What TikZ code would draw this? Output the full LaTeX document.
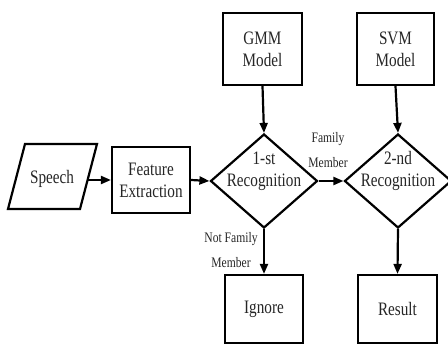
\documentclass[tikz,border=0pt]{standalone}
\usepackage{fontspec}
\setmainfont{Liberation Serif}[FakeStretch=0.8]
\usetikzlibrary{shapes.geometric,arrows.meta}
\begin{document}
\begin{tikzpicture}[x=1pt,y=-1pt,
  box/.style={draw,line width=2.2pt,inner sep=0pt,align=center,text=black!85,font=\fontsize{19}{22}\selectfont},
  dia/.style={draw,diamond,line width=2.2pt,inner sep=0pt,minimum width=107pt,minimum height=94pt},
  lbl/.style={align=center,inner sep=0pt,text=black!85,font=\fontsize{19}{22}\selectfont},
  small/.style={align=center,inner sep=0pt,text=black!85,font=\fontsize{14.5}{25}\selectfont},
  arr/.style={line width=2.2pt,-{Triangle[length=10pt,width=8pt]}}]
\useasboundingbox (0,0) rectangle (448,348);
\fill[white] (0,0) rectangle (448,348);
% Speech parallelogram
\draw[line width=2.2pt] (25,144) -- (97,144) -- (80,209) -- (8,209) -- cycle;
\node[lbl] (speech) at (52,179) {Speech};
\coordinate (speechR) at (88,180);
% boxes
\node[box,minimum width=78pt,minimum height=66pt] (feat) at (151,180) {Feature\\Extraction};
\node[box,minimum width=79pt,minimum height=72pt] (gmm) at (262.5,49) {GMM\\Model};
\node[box,minimum width=77pt,minimum height=72pt] (svm) at (395.5,49) {SVM\\Model};
\node[box,minimum width=78pt,minimum height=68pt] (ignore) at (264,309) {Ignore};
\node[box,minimum width=79pt,minimum height=68pt] (result) at (397.5,309) {Result};
% diamonds
\node[dia] (d1) at (264,181) {};
\node[dia] (d2) at (398,181) {};
\node[lbl] (t1) at (264,171) {1-st\\Recognition};
\node[lbl] (t2) at (398,171) {2-nd\\Recognition};
% labels
\node[small] (fam) at (328,150) {Family\\Member};
\node[small] (nfam) at (231,250) {Not Family\\Member};
% connectors
\draw[arr] (speechR) -- (feat.west);
\draw[arr] (feat.east) -- (d1.west);
\draw[arr] (gmm.south) -- (d1.north);
\draw[arr] (svm.south) -- (d2.north);
\draw[arr] (d1.east) -- (d2.west);
\draw[arr] (d1.south) -- (ignore.north);
\draw[arr] (d2.south) -- (result.north);
\end{tikzpicture}
\end{document}
